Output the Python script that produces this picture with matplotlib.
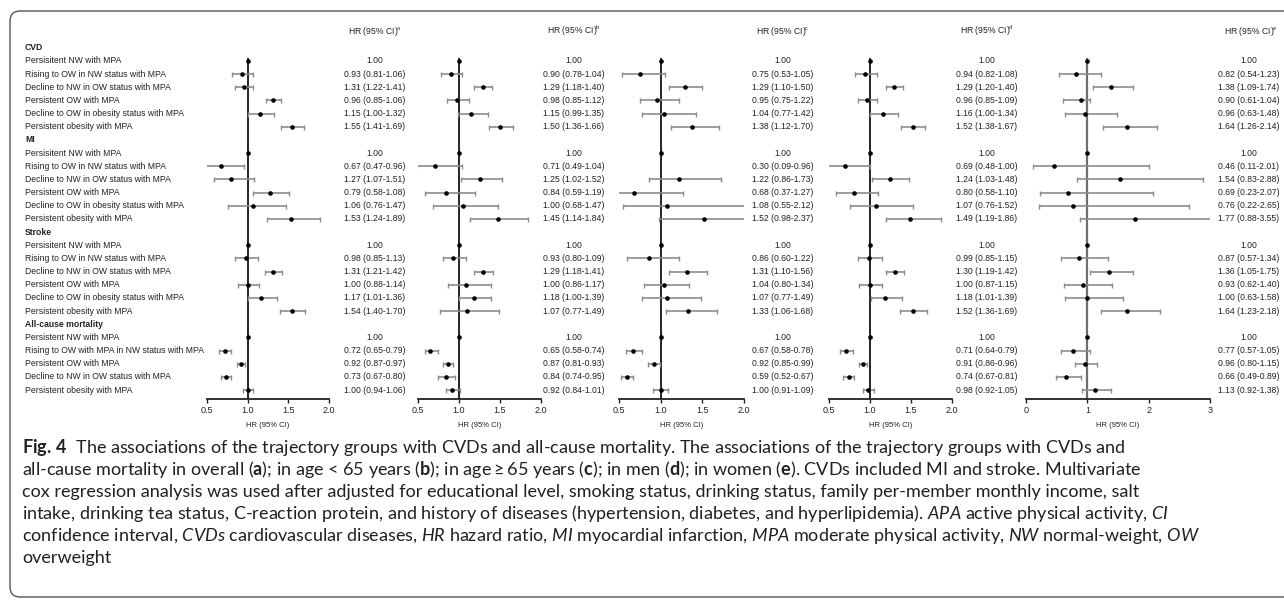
import matplotlib
matplotlib.use("Agg")
import matplotlib.pyplot as plt
import matplotlib.transforms as mtransforms
from matplotlib.patches import FancyBboxPatch

plt.rcParams["font.family"] = ["Liberation Sans", "DejaVu Sans"]
plt.rcParams["mathtext.fontset"] = "custom"
plt.rcParams["mathtext.rm"] = "Lato"
plt.rcParams["mathtext.bf"] = "Lato:bold"
plt.rcParams["mathtext.it"] = "Lato:italic"

# ---- data ---------------------------------------------------------------
SECTIONS = ["CVD", "MI", "Stroke", "All-cause mortality"]
GROUPS = ["Persisitent NW with MPA",
          "Rising to OW in NW status with MPA",
          "Decline to NW in OW status with MPA",
          "Persistent OW with MPA",
          "Decline to OW in obesity status with MPA",
          "Persistent obesity with MPA"]
GROUPS_MORT = ["Persistent NW with MPA",
               "Rising to OW with MPA in NW status with MPA",
               "Persistent OW with MPA",
               "Decline to NW in OW status with MPA",
               "Persistent obesity with MPA"]

# printed HR (95% CI) columns, one list per panel
TXT_A = ["1.00", "0.93 (0.81-1.06)", "1.31 (1.22-1.41)", "0.96 (0.85-1.06)", "1.15 (1.00-1.32)", "1.55 (1.41-1.69)",
         "1.00", "0.67 (0.47-0.96)", "1.27 (1.07-1.51)", "0.79 (0.58-1.08)", "1.06 (0.76-1.47)", "1.53 (1.24-1.89)",
         "1.00", "0.98 (0.85-1.13)", "1.31 (1.21-1.42)", "1.00 (0.88-1.14)", "1.17 (1.01-1.36)", "1.54 (1.40-1.70)",
         "1.00", "0.72 (0.65-0.79)", "0.92 (0.87-0.97)", "0.73 (0.67-0.80)", "1.00 (0.94-1.06)"]
TXT_B = ["1.00", "0.90 (0.78-1.04)", "1.29 (1.18-1.40)", "0.98 (0.85-1.12)", "1.15 (0.99-1.35)", "1.50 (1.36-1.66)",
         "1.00", "0.71 (0.49-1.04)", "1.25 (1.02-1.52)", "0.84 (0.59-1.19)", "1.00 (0.68-1.47)", "1.45 (1.14-1.84)",
         "1.00", "0.93 (0.80-1.09)", "1.29 (1.18-1.41)", "1.00 (0.86-1.17)", "1.18 (1.00-1.39)", "1.07 (0.77-1.49)",
         "1.00", "0.65 (0.58-0.74)", "0.87 (0.81-0.93)", "0.84 (0.74-0.95)", "0.92 (0.84-1.01)"]
TXT_C = ["1.00", "0.75 (0.53-1.05)", "1.29 (1.10-1.50)", "0.95 (0.75-1.22)", "1.04 (0.77-1.42)", "1.38 (1.12-1.70)",
         "1.00", "0.30 (0.09-0.96)", "1.22 (0.86-1.73)", "0.68 (0.37-1.27)", "1.08 (0.55-2.12)", "1.52 (0.98-2.37)",
         "1.00", "0.86 (0.60-1.22)", "1.31 (1.10-1.56)", "1.04 (0.80-1.34)", "1.07 (0.77-1.49)", "1.33 (1.06-1.68)",
         "1.00", "0.67 (0.58-0.78)", "0.92 (0.85-0.99)", "0.59 (0.52-0.67)", "1.00 (0.91-1.09)"]
TXT_D = ["1.00", "0.94 (0.82-1.08)", "1.29 (1.20-1.40)", "0.96 (0.85-1.09)", "1.16 (1.00-1.34)", "1.52 (1.38-1.67)",
         "1.00", "0.69 (0.48-1.00)", "1.24 (1.03-1.48)", "0.80 (0.58-1.10)", "1.07 (0.76-1.52)", "1.49 (1.19-1.86)",
         "1.00", "0.99 (0.85-1.15)", "1.30 (1.19-1.42)", "1.00 (0.87-1.15)", "1.18 (1.01-1.39)", "1.52 (1.36-1.69)",
         "1.00", "0.71 (0.64-0.79)", "0.91 (0.86-0.96)", "0.74 (0.67-0.81)", "0.98 (0.92-1.05)"]
TXT_E = ["1.00", "0.82 (0.54-1.23)", "1.38 (1.09-1.74)", "0.90 (0.61-1.04)", "0.96 (0.63-1.48)", "1.64 (1.26-2.14)",
         "1.00", "0.46 (0.11-2.01)", "1.54 (0.83-2.88)", "0.69 (0.23-2.07)", "0.76 (0.22-2.65)", "1.77 (0.88-3.55)",
         "1.00", "0.87 (0.57-1.34)", "1.36 (1.05-1.75)", "0.93 (0.62-1.40)", "1.00 (0.63-1.58)", "1.64 (1.23-2.18)",
         "1.00", "0.77 (0.57-1.05)", "0.96 (0.80-1.15)", "0.66 (0.49-0.89)", "1.13 (0.92-1.38)"]

HR_A = [1.00, 0.93, 0.96, 1.31, 1.15, 1.55, 1.00, 0.67, 0.79, 1.27, 1.06, 1.53,
        1.00, 0.98, 1.31, 1.00, 1.17, 1.54, 1.00, 0.72, 0.92, 0.73, 1.00]
LO_A = [1.00, 0.81, 0.85, 1.22, 1.00, 1.41, 1.00, 0.47, 0.58, 1.07, 0.76, 1.24,
        1.00, 0.85, 1.21, 0.88, 1.01, 1.40, 1.00, 0.65, 0.87, 0.67, 0.94]
HI_A = [1.00, 1.06, 1.06, 1.41, 1.32, 1.69, 1.00, 0.96, 1.08, 1.51, 1.47, 1.89,
        1.00, 1.13, 1.42, 1.14, 1.36, 1.70, 1.00, 0.79, 0.97, 0.80, 1.06]

HR_B = [1.00, 0.90, 1.29, 0.98, 1.15, 1.50, 1.00, 0.71, 1.25, 0.84, 1.05, 1.48,
        1.00, 0.93, 1.29, 1.08, 1.18, 1.10, 1.00, 0.65, 0.87, 0.84, 0.92]
LO_B = [1.00, 0.78, 1.18, 0.85, 0.99, 1.36, 1.00, 0.49, 1.02, 0.59, 0.68, 1.14,
        1.00, 0.80, 1.18, 0.86, 1.00, 0.77, 1.00, 0.58, 0.81, 0.74, 0.84]
HI_B = [1.00, 1.04, 1.40, 1.12, 1.35, 1.66, 1.00, 1.04, 1.52, 1.19, 1.47, 1.84,
        1.00, 1.09, 1.41, 1.39, 1.39, 1.49, 1.00, 0.74, 0.93, 0.95, 1.01]

HR_C = [1.00, 0.75, 1.29, 0.95, 1.04, 1.38, 1.00, 0.30, 1.22, 0.68, 1.08, 1.52,
        1.00, 0.86, 1.31, 1.04, 1.07, 1.33, 1.00, 0.67, 0.92, 0.59, 1.00]
LO_C = [1.00, 0.53, 1.10, 0.75, 0.77, 1.12, 1.00, 0.09, 0.86, 0.37, 0.55, 0.98,
        1.00, 0.60, 1.10, 0.80, 0.77, 1.06, 1.00, 0.58, 0.85, 0.52, 0.91]
HI_C = [1.00, 1.05, 1.50, 1.22, 1.42, 1.70, 1.00, 0.96, 1.73, 1.27, 2.12, 2.37,
        1.00, 1.22, 1.56, 1.34, 1.49, 1.68, 1.00, 0.78, 0.99, 0.67, 1.09]

HR_D = [1.00, 0.94, 1.29, 0.96, 1.16, 1.52, 1.00, 0.69, 1.24, 0.80, 1.07, 1.49,
        1.00, 0.99, 1.30, 1.00, 1.18, 1.52, 1.00, 0.71, 0.91, 0.74, 0.98]
LO_D = [1.00, 0.82, 1.20, 0.85, 1.00, 1.38, 1.00, 0.48, 1.03, 0.58, 0.76, 1.19,
        1.00, 0.85, 1.19, 0.87, 1.01, 1.36, 1.00, 0.64, 0.86, 0.67, 0.92]
HI_D = [1.00, 1.08, 1.40, 1.09, 1.34, 1.67, 1.00, 1.00, 1.48, 1.10, 1.52, 1.86,
        1.00, 1.15, 1.42, 1.15, 1.39, 1.69, 1.00, 0.79, 0.96, 0.81, 1.05]

HR_E = [1.00, 0.82, 1.38, 0.90, 0.96, 1.64, 1.00, 0.46, 1.54, 0.69, 0.76, 1.77,
        1.00, 0.87, 1.36, 0.93, 1.00, 1.64, 1.00, 0.77, 0.96, 0.66, 1.13]
LO_E = [1.00, 0.54, 1.09, 0.61, 0.63, 1.26, 1.00, 0.11, 0.83, 0.23, 0.22, 0.88,
        1.00, 0.57, 1.05, 0.62, 0.63, 1.23, 1.00, 0.57, 0.80, 0.49, 0.92]
HI_E = [1.00, 1.23, 1.74, 1.04, 1.48, 2.14, 1.00, 2.01, 2.88, 2.07, 2.65, 3.55,
        1.00, 1.34, 1.75, 1.40, 1.58, 2.18, 1.00, 1.05, 1.15, 0.89, 1.38]

HEADER_MARKS = ["a", "b", "c", "d", "e"]

CAPTION = [
    r"$\mathbf{Fig.\,4}$  The associations of the trajectory groups with CVDs and all-cause mortality. "
    r"The associations of the trajectory groups with CVDs and",
    r"all-cause mortality in overall ($\mathbf{a}$); in age < 65 years ($\mathbf{b}$); in age$\geq$65 years "
    r"($\mathbf{c}$); in men ($\mathbf{d}$); in women ($\mathbf{e}$). CVDs included MI and stroke. Multivariate",
    "cox regression analysis was used after adjusted for educational level, smoking status, drinking status, "
    "family per-member monthly income, salt",
    r"intake, drinking tea status, C-reaction protein, and history of diseases (hypertension, diabetes, and "
    r"hyperlipidemia). $\mathit{APA}$ active physical activity, $\mathit{CI}$",
    r"confidence interval, $\mathit{CVDs}$ cardiovascular diseases, $\mathit{HR}$ hazard ratio, "
    r"$\mathit{MI}$ myocardial infarction, $\mathit{MPA}$ moderate physical activity, $\mathit{NW}$ "
    r"normal-weight, $\mathit{OW}$",
    "overweight",
]

# ---- layout (pixels) ------------------------------------------------------
W, H = 1284, 601
ROW0, ROW_H = 47.7, 13.17
AX_TOP, AX_BOT = 40, 399

PANELS = [
    # x_left, x_right, limits, ticks, text centre, header centre, ref line colour
    dict(x0=207, x1=329, lim=(0.5, 2.0), ticks=[0.5, 1.0, 1.5, 2.0], tx=375, hx=375, ref="black",
         txt=TXT_A, hr=HR_A, lo=LO_A, hi=HI_A),
    dict(x0=418, x1=541, lim=(0.5, 2.0), ticks=[0.5, 1.0, 1.5, 2.0], tx=574, hx=574, ref="black",
         txt=TXT_B, hr=HR_B, lo=LO_B, hi=HI_B),
    dict(x0=619, x1=744, lim=(0.5, 2.0), ticks=[0.5, 1.0, 1.5, 2.0], tx=783, hx=783, ref="black",
         txt=TXT_C, hr=HR_C, lo=LO_C, hi=HI_C),
    dict(x0=829, x1=952, lim=(0.5, 2.0), ticks=[0.5, 1.0, 1.5, 2.0], tx=987, hx=987, ref="black",
         txt=TXT_D, hr=HR_D, lo=LO_D, hi=HI_D),
    dict(x0=1026, x1=1210, lim=(0, 3), ticks=[0, 1, 2, 3], tx=1249, hx=1251, ref="#6f6f6f",
         txt=TXT_E, hr=HR_E, lo=LO_E, hi=HI_E),
]


def fx(px):
    return px / W


def fy(py):
    return 1 - py / H


# rows: section headers followed by their groups
row_labels = []
data_rows = []
for sec in SECTIONS:
    row_labels.append((sec, True))
    items = GROUPS_MORT if sec == SECTIONS[-1] else GROUPS
    for g in items:
        data_rows.append(len(row_labels))
        row_labels.append((g, False))

fig = plt.figure(figsize=(W / 100, H / 100), dpi=100)

y_bot = (AX_BOT - ROW0) / ROW_H
y_top = (AX_TOP - ROW0) / ROW_H

axes = []
for k, p in enumerate(PANELS):
    ax = fig.add_axes([fx(p["x0"]), fy(AX_BOT), fx(p["x1"]) - fx(p["x0"]), (AX_BOT - AX_TOP) / H])
    ax.set_xlim(*p["lim"])
    ax.set_ylim(y_bot, y_top)
    ax.patch.set_visible(False)
    for s in ("left", "right", "top"):
        ax.spines[s].set_visible(False)
    ax.spines["bottom"].set_linewidth(1.3)
    ax.spines["bottom"].set_color("#222222")
    ax.set_yticks([])
    ax.set_xticks(p["ticks"])
    if p["lim"][1] == 3:
        ax.set_xticklabels([f"{t:d}" for t in p["ticks"]])
    else:
        ax.set_xticklabels([f"{t:.1f}" for t in p["ticks"]])
    ax.tick_params(axis="x", length=3, width=1, pad=2, labelsize=6.5, colors="#222222")
    ax.set_xlabel("HR (95% CI)", fontsize=5.5, labelpad=5, color="#222222")

    # reference line at HR = 1
    ax.vlines(1.0, data_rows[0] - 0.25, y_bot, color=p["ref"],
              lw=1.2 if p["ref"] == "black" else 1.6, zorder=1)

    lo_lim, hi_lim = p["lim"]
    for r, hr, lo, hi in zip(data_rows, p["hr"], p["lo"], p["hi"]):
        if not (lo_lim <= hr <= hi_lim):
            continue
        if hi > lo:
            ax.errorbar(hr, r, xerr=[[hr - lo], [hi - hr]], fmt="none", ecolor="#8c8c8c",
                        elinewidth=1.2, capsize=1.8, capthick=1.0, zorder=2)
        ax.plot(hr, r, "o", color="black", ms=2.3, zorder=3)

    trans = mtransforms.blended_transform_factory(fig.transFigure, ax.transData)
    for r, t in zip(data_rows, p["txt"]):
        ax.text(fx(p["tx"]), r, t, transform=trans, ha="center", va="center",
                fontsize=6.2, color="#222222", clip_on=False)

    fig.text(fx(p["hx"]), fy(31), "HR (95% CI)$^{\\mathrm{" + HEADER_MARKS[k] + "}}$",
             ha="center", va="center", fontsize=6.2, color="#222222")
    axes.append(ax)

# row labels on the left
trans_a = mtransforms.blended_transform_factory(fig.transFigure, axes[0].transData)
for i, (lab, bold) in enumerate(row_labels):
    fig.text(fx(25), i, lab, transform=trans_a, ha="left", va="center", fontsize=6.2,
             fontweight="bold" if bold else "normal", color="#222222")

# caption
for j, line in enumerate(CAPTION):
    fig.text(fx(22), fy(448 + 22 * j), line, ha="left", va="center", fontsize=13,
             family="Lato", color="#231f20")

# rounded frame, cut by the right edge
frame = FancyBboxPatch((10, H - 597), 1300, 586, boxstyle="round,pad=0,rounding_size=10",
                       transform=mtransforms.IdentityTransform(), fill=False,
                       ec="#555555", lw=1.0)
fig.add_artist(frame)

fig.savefig("out.png", dpi=100)
